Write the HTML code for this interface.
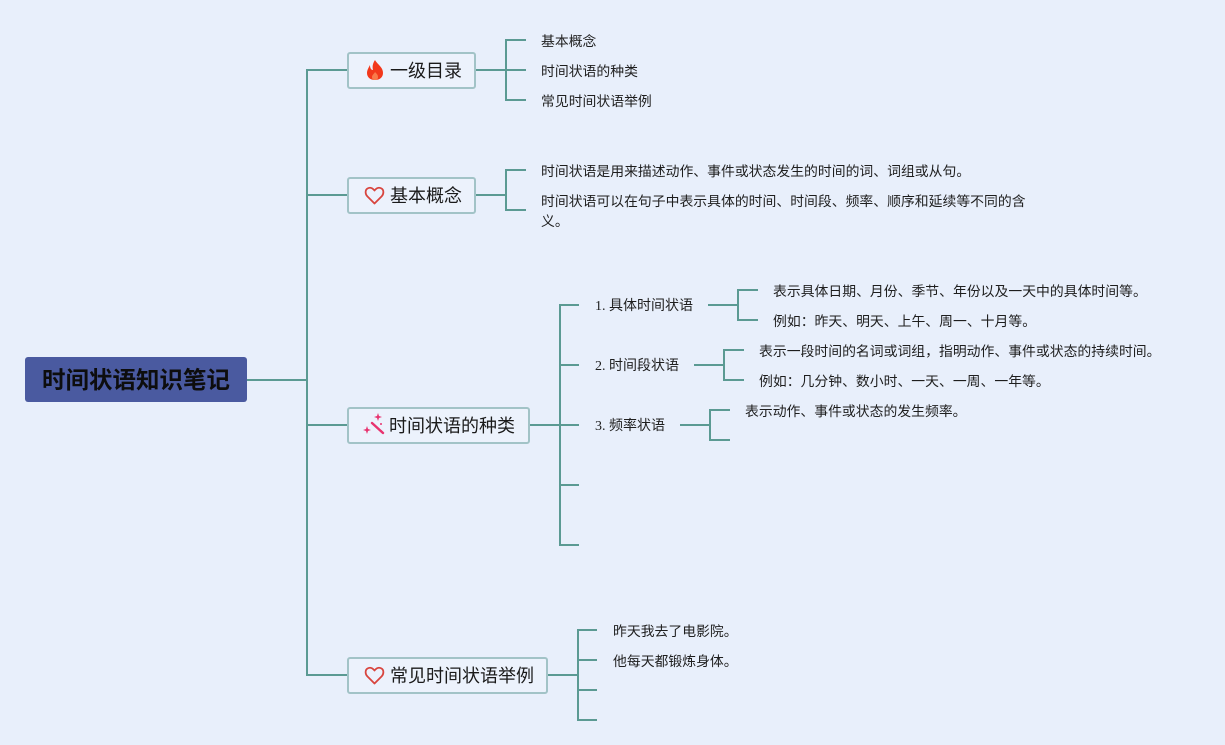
<!DOCTYPE html>
<html>
<head>
<meta charset="utf-8">
<style>
  html,body{margin:0;padding:0;}
  body{width:1225px;height:745px;background:#e8effb;position:relative;overflow:hidden;
       font-family:"Liberation Sans","Noto Sans CJK SC",sans-serif;}
  svg{position:absolute;left:0;top:0;}
  .t{position:absolute;font-size:13.85px;line-height:20px;color:#1e1e1e;white-space:nowrap;
     font-family:"Liberation Sans","Noto Sans CJK SC",sans-serif;}
  .l2{position:absolute;font-size:14px;line-height:20px;color:#1e1e1e;white-space:nowrap;
      font-family:"Liberation Serif","Noto Sans CJK SC",sans-serif;}
  .box{position:absolute;box-sizing:border-box;border:2px solid #a2c3c7;border-radius:3px;
       background:#ecf2fc;height:37px;}
  .bt{position:absolute;font-size:18px;line-height:24px;color:#1a1a1a;white-space:nowrap;
      font-family:"Liberation Sans","Noto Sans CJK SC",sans-serif;}
  .root{position:absolute;left:25px;top:357px;width:222px;height:45px;background:#4a5aa0;
        border-radius:3px;}
  .rt{position:absolute;left:25px;top:357px;width:222px;height:45px;line-height:46px;text-align:center;
      font-size:23.5px;font-weight:bold;color:#0d0d0d;white-space:nowrap;
      font-family:"Liberation Sans","Noto Sans CJK SC",sans-serif;}
</style>
</head>
<body>
<div class="root"></div>
<div class="rt">时间状语知识笔记</div>

<div class="box" style="left:347px;top:52px;width:129px;"></div>
<div class="box" style="left:347px;top:177px;width:129px;"></div>
<div class="box" style="left:347px;top:407px;width:183px;"></div>
<div class="box" style="left:347px;top:657px;width:201px;"></div>

<svg width="1225" height="745" viewBox="0 0 1225 745">
  <g fill="none" stroke="#5b9a93" stroke-width="2" stroke-linejoin="miter" stroke-linecap="butt">
    <path d="M247,380 H307"/>
    <path d="M307,69 V676"/>
    <path d="M306,70 H347 M306,195 H347 M306,425 H347 M306,675 H347"/>
    <path d="M476,70 H526"/>
    <path d="M526,40 H506 V100 H526"/>
    <path d="M476,195 H506"/>
    <path d="M526,170 H506 V210 H526"/>
    <path d="M530,425 H579"/>
    <path d="M579,305 H560 V545 H579"/>
    <path d="M560,365 H579 M560,485 H579"/>
    <path d="M708,305 H738"/>
    <path d="M758,290 H738 V320 H758"/>
    <path d="M694,365 H724"/>
    <path d="M744,350 H724 V380 H744"/>
    <path d="M680,425 H710"/>
    <path d="M730,410 H710 V440 H730"/>
    <path d="M548,675 H578"/>
    <path d="M597,630 H578 V720 H597"/>
    <path d="M578,660 H597 M578,690 H597"/>
  </g>
  <path d="M375,60 C377,64 383,67 383,73 C383,77 380,80 375,80 C370,80 367,77 367,73 C367,70 369,67 370,65 C370,68 371,70 373,70 C372,66 373,63 375,60 Z" fill="#f2381b"/>
  <path d="M375,72 C377,74 378,75 378,77 C378,79 377,80 375,80 C373,80 372,79 372,77 C372,75 374,74 375,72 Z" fill="#f97a4a"/>
  <path d="M374.5,203.5 L367.5,196.5 C365,194 365,190 367.5,188.5 C370,187 372.5,188 374.5,190.5 C376.5,188 379,187 381.5,188.5 C384,190 384,194 381.5,196.5 Z" fill="none" stroke="#d8453e" stroke-width="1.8" stroke-linejoin="round"/>
  <path d="M374.5,683.5 L367.5,676.5 C365,674 365,670 367.5,668.5 C370,667 372.5,668 374.5,670.5 C376.5,668 379,667 381.5,668.5 C384,670 384,674 381.5,676.5 Z" fill="none" stroke="#d8453e" stroke-width="1.8" stroke-linejoin="round"/>
  <g fill="#e8336f" stroke="#e8336f">
    <path d="M372,423 L383,433" stroke-width="2.4" stroke-linecap="round" fill="none"/>
    <path d="M378,413 L379,416 L382,417 L379,418 L378,421 L377,418 L374,417 L377,416 Z" stroke="none"/>
    <path d="M367,426 L368,429 L371,430 L368,431 L367,434 L366,431 L363,430 L366,429 Z" stroke="none"/>
    <circle cx="381" cy="424" r="1" stroke="none"/>
  </g>
</svg>

<div class="bt" style="left:390px;top:59px;">一级目录</div>
<div class="bt" style="left:390px;top:184px;">基本概念</div>
<div class="bt" style="left:389px;top:414px;">时间状语的种类</div>
<div class="bt" style="left:390px;top:664px;">常见时间状语举例</div>

<div class="t" style="left:541px;top:31px;">基本概念</div>
<div class="t" style="left:541px;top:61px;">时间状语的种类</div>
<div class="t" style="left:541px;top:91px;">常见时间状语举例</div>

<div class="t" style="left:541px;top:161px;">时间状语是用来描述动作、事件或状态发生的时间的词、词组或从句。</div>
<div class="t" style="left:541px;top:191px;">时间状语可以在句子中表示具体的时间、时间段、频率、顺序和延续等不同的含<br>义。</div>

<div class="l2" style="left:595px;top:297px;">1. 具体时间状语</div>
<div class="l2" style="left:595px;top:357px;">2. 时间段状语</div>
<div class="l2" style="left:595px;top:417px;">3. 频率状语</div>

<div class="t" style="left:773px;top:281px;">表示具体日期、月份、季节、年份以及一天中的具体时间等。</div>
<div class="t" style="left:773px;top:311px;">例如：昨天、明天、上午、周一、十月等。</div>
<div class="t" style="left:759px;top:341px;">表示一段时间的名词或词组，指明动作、事件或状态的持续时间。</div>
<div class="t" style="left:759px;top:371px;">例如：几分钟、数小时、一天、一周、一年等。</div>
<div class="t" style="left:745px;top:401px;">表示动作、事件或状态的发生频率。</div>

<div class="t" style="left:613px;top:621px;">昨天我去了电影院。</div>
<div class="t" style="left:613px;top:651px;">他每天都锻炼身体。</div>
</body>
</html>
